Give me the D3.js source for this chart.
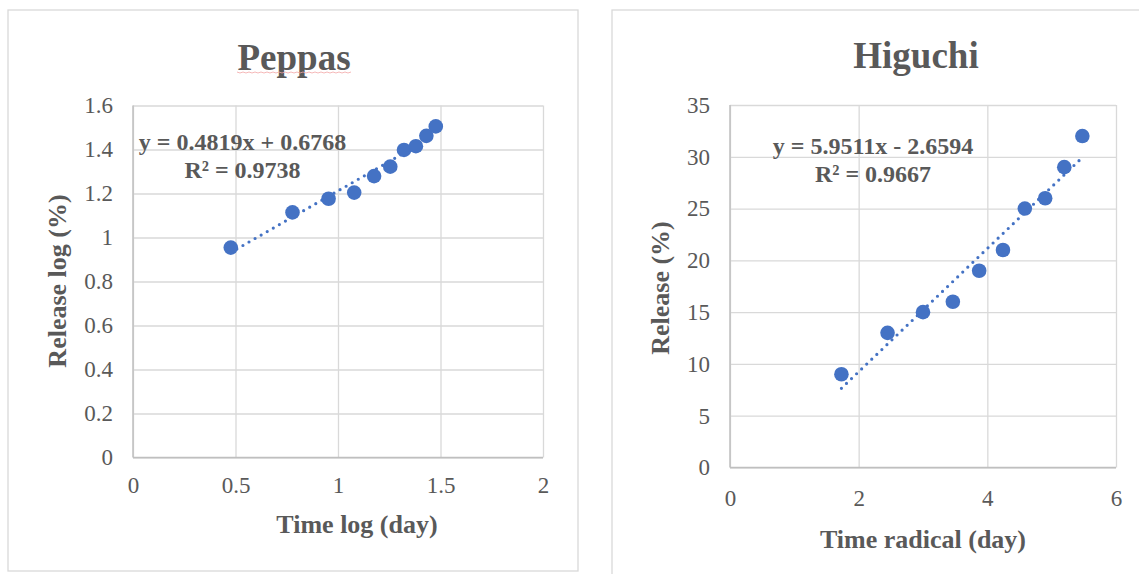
<!DOCTYPE html>
<html>
<head>
<meta charset="utf-8">
<script src="https://cdn.jsdelivr.net/npm/d3@7"></script>
<style>
  body { margin: 0; background: #fff; }
  svg { display: block; }
  svg text { font-family: 'Liberation Serif', 'Times New Roman', serif; }
</style>
</head>
<body>
<svg id="chart" width="1139" height="574"></svg>
<script>
// Peppas: log(time) vs log(release)
const peppasX = [0.477, 0.778, 0.954, 1.079, 1.176, 1.255, 1.322, 1.380, 1.431, 1.477];
const peppasY = [0.954, 1.114, 1.176, 1.204, 1.279, 1.322, 1.398, 1.415, 1.462, 1.505];
const peppasLabels = ['y = 0.4819x + 0.6768', 'R² = 0.9738'];
const peppasXTicks = [0, 0.5, 1, 1.5, 2];
const peppasYTicks = [0, 0.2, 0.4, 0.6, 0.8, 1, 1.2, 1.4, 1.6];

// Higuchi: sqrt(time) vs release
const higuchiX = [1.732, 2.449, 3.0, 3.464, 3.873, 4.243, 4.583, 4.899, 5.196, 5.477];
const higuchiY = [9, 13, 15, 16, 19, 21, 25, 26, 29, 32];
const higuchiLabels = ['y = 5.9511x - 2.6594', 'R² = 0.9667'];
const higuchiXTicks = [0, 2, 4, 6];
const higuchiYTicks = [0, 5, 10, 15, 20, 25, 30, 35];

const blue = '#4472C4';
const textGray = '#595959';
const svg = d3.select('#chart');

// least squares line, like the Excel linear trendline
function linearFit(xs, ys) {
  let mx = d3.mean(xs), my = d3.mean(ys);
  let sxy = d3.sum(xs, (d, i) => (d - mx) * (ys[i] - my));
  let sxx = d3.sum(xs, (d) => (d - mx) * (d - mx));
  let slope = sxy / sxx;
  return [slope, my - slope * mx];
}

function drawPanel(p) {
  // chart frame
  svg.append('rect')
    .attr('x', p.box[0]).attr('y', p.box[1])
    .attr('width', p.box[2]).attr('height', p.box[3])
    .attr('fill', '#fff').attr('stroke', '#d9d9d9').attr('stroke-width', 1.3);

  let x = d3.scaleLinear().domain(d3.extent(p.xTicks)).range([p.plot[0], p.plot[1]]);
  let y = d3.scaleLinear().domain(d3.extent(p.yTicks)).range([p.plot[3], p.plot[2]]);
  let w = p.plot[1] - p.plot[0];
  let h = p.plot[3] - p.plot[2];

  // gridlines
  let gx = svg.append('g')
    .attr('transform', `translate(0,${p.plot[3]})`)
    .call(d3.axisBottom(x).tickValues(p.xTicks).tickSize(-h).tickFormat(''));
  gx.select('.domain').remove();
  gx.selectAll('line').attr('stroke', '#d9d9d9').attr('stroke-width', 1.3);

  let gy = svg.append('g')
    .attr('transform', `translate(${p.plot[0]},0)`)
    .call(d3.axisLeft(y).tickValues(p.yTicks).tickSize(-w).tickFormat(''));
  gy.select('.domain').remove();
  gy.selectAll('line').attr('stroke', '#d9d9d9').attr('stroke-width', 1.3);

  // axis lines
  svg.append('line')
    .attr('x1', x.range()[0]).attr('x2', x.range()[1])
    .attr('y1', y(0)).attr('y2', y(0))
    .attr('stroke', '#bfbfbf').attr('stroke-width', 1.5);
  svg.append('line')
    .attr('x1', x(0)).attr('x2', x(0))
    .attr('y1', y.range()[0]).attr('y2', y.range()[1])
    .attr('stroke', '#bfbfbf').attr('stroke-width', 1.5);

  // tick labels
  let ax = svg.append('g')
    .attr('transform', `translate(0,${p.plot[3]})`)
    .call(d3.axisBottom(x).tickValues(p.xTicks).tickSize(0).tickPadding(p.xPad).tickFormat(d3.format('')));
  ax.attr('font-family', null).attr('font-size', null);
  ax.select('.domain').remove();
  ax.selectAll('text').attr('font-size', 23).attr('fill', textGray);

  let ay = svg.append('g')
    .attr('transform', `translate(${p.plot[0]},0)`)
    .call(d3.axisLeft(y).tickValues(p.yTicks).tickSize(0).tickPadding(20).tickFormat(d3.format('')));
  ay.attr('font-family', null).attr('font-size', null);
  ay.select('.domain').remove();
  ay.selectAll('text').attr('font-size', 23).attr('fill', textGray);

  // trendline over the data range
  let fit = linearFit(p.xs, p.ys);
  let x0 = d3.min(p.xs), x1 = d3.max(p.xs);
  svg.append('line')
    .attr('x1', x(x0)).attr('y1', y(fit[0] * x0 + fit[1]))
    .attr('x2', x(x1)).attr('y2', y(fit[0] * x1 + fit[1]))
    .attr('stroke', blue).attr('stroke-width', 3.2)
    .attr('stroke-linecap', 'round').attr('stroke-dasharray', '0 7');

  // points
  svg.append('g').selectAll('circle')
    .data(p.xs.map((d, i) => [d, p.ys[i]]))
    .join('circle')
    .attr('cx', (d) => x(d[0]))
    .attr('cy', (d) => y(d[1]))
    .attr('r', 7.3)
    .attr('fill', blue);

  // equation label
  svg.append('g').selectAll('text')
    .data(p.labels)
    .join('text')
    .attr('x', p.labelPos[0])
    .attr('y', (d, i) => p.labelPos[1] + i * 28)
    .attr('text-anchor', 'middle')
    .attr('font-weight', 'bold').attr('font-size', 24).attr('fill', textGray)
    .text((d) => d);

  // title
  svg.append('text')
    .attr('x', p.titlePos[0]).attr('y', p.titlePos[1])
    .attr('text-anchor', 'middle')
    .attr('font-weight', 'bold').attr('font-size', 37).attr('fill', textGray)
    .text(p.title);

  // axis titles
  svg.append('text')
    .attr('x', p.xTitlePos[0]).attr('y', p.xTitlePos[1])
    .attr('text-anchor', 'middle')
    .attr('font-weight', 'bold').attr('font-size', 26).attr('fill', textGray)
    .text(p.xTitle);
  svg.append('text')
    .attr('transform', `translate(${p.yTitlePos[0]},${p.yTitlePos[1]}) rotate(-90)`)
    .attr('text-anchor', 'middle')
    .attr('font-weight', 'bold').attr('font-size', 26).attr('fill', textGray)
    .text(p.yTitle);
}

drawPanel({
  box: [8, 10, 570, 561],
  plot: [133, 543, 105.5, 457.5],
  xs: peppasX, ys: peppasY, labels: peppasLabels,
  xTicks: peppasXTicks, yTicks: peppasYTicks, xPad: 19,
  labelPos: [242.5, 150],
  title: 'Peppas', titlePos: [294, 70],
  xTitle: 'Time log (day)', xTitlePos: [357, 533],
  yTitle: 'Release log (%)', yTitlePos: [66, 281]
});

// spell-check squiggle under the title, as in the source document
svg.append('path')
  .attr('d', d3.range(0, 115, 3).map((d, i) => `${i ? 'L' : 'M'}${237 + d},${72 + (i % 2 ? 1 : 0)}`).join(''))
  .attr('fill', 'none').attr('stroke', '#f2a6a6').attr('stroke-width', 0.8);

drawPanel({
  box: [612, 10, 620, 580],
  plot: [730, 1116, 105, 467.5],
  xs: higuchiX, ys: higuchiY, labels: higuchiLabels,
  xTicks: higuchiXTicks, yTicks: higuchiYTicks, xPad: 22,
  labelPos: [873, 154],
  title: 'Higuchi', titlePos: [916, 68],
  xTitle: 'Time radical (day)', xTitlePos: [923, 548],
  yTitle: 'Release (%)', yTitlePos: [669, 288]
});
</script>
</body>
</html>
